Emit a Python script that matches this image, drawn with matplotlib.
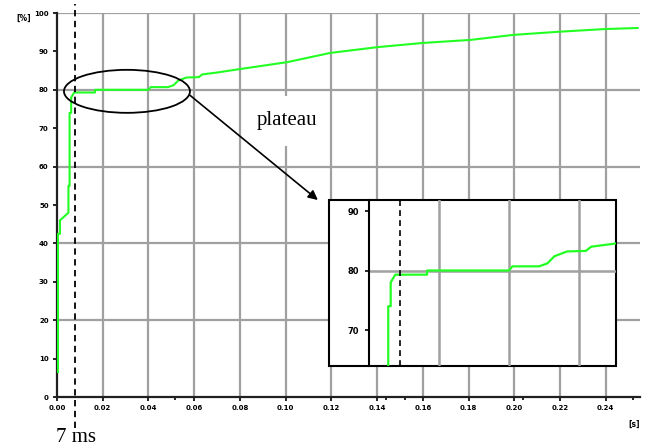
import matplotlib.pyplot as plt
from matplotlib.patches import Ellipse, Rectangle, FancyArrowPatch

# response curve
time_s = [0.0004, 0.0004, 0.0013, 0.0013, 0.0050, 0.0050, 0.0055, 0.0055,
          0.0062, 0.0062, 0.0075, 0.0166, 0.0166, 0.0400, 0.0410, 0.0486,
          0.0510, 0.0530, 0.0566, 0.0620, 0.0635, 0.0700, 0.0800, 0.1007,
          0.1195, 0.1400, 0.1600, 0.1810, 0.1996, 0.2190, 0.2390, 0.2540]
level_pct = [6.5, 42.5, 42.5, 46.0, 48.0, 55.0, 55.0, 74.0,
             74.0, 78.0, 79.3, 79.3, 80.0, 80.0, 80.7, 80.7,
             81.2, 82.4, 83.2, 83.3, 84.0, 84.5, 85.4, 87.2,
             89.6, 91.1, 92.2, 93.0, 94.3, 95.1, 95.8, 96.1]

t_mark = 0.008
x_ticks = [0.00, 0.02, 0.04, 0.06, 0.08, 0.10, 0.12, 0.14, 0.16, 0.18, 0.20, 0.22, 0.24]
x_labels = ["0.00", "0.02", "0.04", "0.06", "0.08", "0.10", "0.12",
            "0.14", "0.16", "0.18", "0.20", "0.22", "0.24"]
y_ticks = [0, 10, 20, 30, 40, 50, 60, 70, 80, 90, 100]
inset_y_ticks = [70, 80, 90]

green = "#22ff22"
grid_c = "#a0a0a0"
W, H = 646, 447

fig = plt.figure(figsize=(6.46, 4.47), dpi=100)
ax = fig.add_axes([57 / W, 1 - 397 / H, 583 / W, 384 / H])
ax.set_xlim(0, 0.255)
ax.set_ylim(0, 100)

for x in x_ticks[1:]:
    ax.axvline(x, color=grid_c, lw=1.6, zorder=1)
for y in range(20, 101, 20):
    ax.axhline(y, color=grid_c, lw=1.6, zorder=1)

ax.plot(time_s, level_pct, color=green, lw=1.5, zorder=3)
ax.plot([t_mark, t_mark], [-8.1, 102.3], color="black", lw=1.3,
        ls=(0, (3.5, 2.5)), clip_on=False, zorder=4)

for s in ["top", "right"]:
    ax.spines[s].set_visible(False)
for s in ["left", "bottom"]:
    ax.spines[s].set_linewidth(1.6)
    ax.spines[s].set_color("#202020")

ax.set_xticks(x_ticks)
ax.set_xticklabels(x_labels)
ax.set_xticks([0.0516, 0.144, 0.152, 0.204, 0.252], minor=True)
ax.set_yticks(y_ticks)
ax.set_yticklabels([str(v) for v in y_ticks])
ax.tick_params(axis="both", length=3, width=1.2, labelsize=5, pad=3)
ax.tick_params(axis="x", which="minor", length=2, width=1.2)
for lab in ax.get_xticklabels() + ax.get_yticklabels():
    lab.set_fontweight("bold")

fig.text(24 / W, 1 - 18 / H, "[%]", fontsize=5.5, fontweight="bold",
         ha="center", va="center")
fig.text(634 / W, 1 - 424 / H, "[s]", fontsize=5.5, fontweight="bold",
         ha="center", va="center")

# white patch behind the plateau label
ax.add_patch(Rectangle((252 / W, 1 - 146 / H), 74 / W, 50 / H,
                       transform=fig.transFigure, fc="white", ec="none", zorder=2))
ax.text(287 / W, 1 - 121 / H, "plateau", fontsize=15, family="Liberation Serif",
        ha="center", va="center", transform=fig.transFigure, zorder=2.5)

# ellipse and arrow
ax.add_patch(Ellipse((0.0306, 79.6), 0.0551, 11.2, fill=False,
                     ec="black", lw=1.3, zorder=5))
ax.add_patch(FancyArrowPatch((0.0581, 78.6), (0.1141, 51.3),
                             arrowstyle="-|>", color="black", lw=1.2,
                             mutation_scale=14, shrinkA=0, shrinkB=0,
                             clip_on=False, zorder=6))

fig.text(76 / W, 1 - 437 / H, "7 ms", fontsize=15, family="Liberation Serif",
         ha="center", va="center")

# inset
fig.patches.append(Rectangle((329 / W, 1 - 366 / H), (616 - 329) / W, 166 / H,
                             transform=fig.transFigure, fc="white", ec="black",
                             lw=1.5, zorder=6))
ins = fig.add_axes([369 / W, 1 - 366 / H, 247 / W, 166 / H])
ins.set_zorder(7)
ins.patch.set_alpha(0)
ins.set_xlim(0, 0.0706)
ins.set_ylim(63.95, 91.85)
for x in [0.02, 0.04, 0.06]:
    ins.axvline(x, color=grid_c, lw=1.8, zorder=1)
ins.axhline(80, color=grid_c, lw=1.8, zorder=1)
ins.plot(time_s, level_pct, color=green, lw=1.6, zorder=3)
ins.axvline(t_mark + 0.001, color="black", lw=1.2, ls=(0, (3.5, 2.5)), zorder=4)
for s in ["top", "right", "bottom"]:
    ins.spines[s].set_visible(False)
ins.spines["left"].set_linewidth(1.5)
ins.set_xticks([])
ins.set_yticks(inset_y_ticks)
ins.set_yticklabels([str(v) for v in inset_y_ticks])
ins.tick_params(axis="y", length=3, width=1.2, labelsize=6, pad=4)
for lab in ins.get_yticklabels():
    lab.set_fontweight("bold")

fig.savefig("out.png", dpi=100)
